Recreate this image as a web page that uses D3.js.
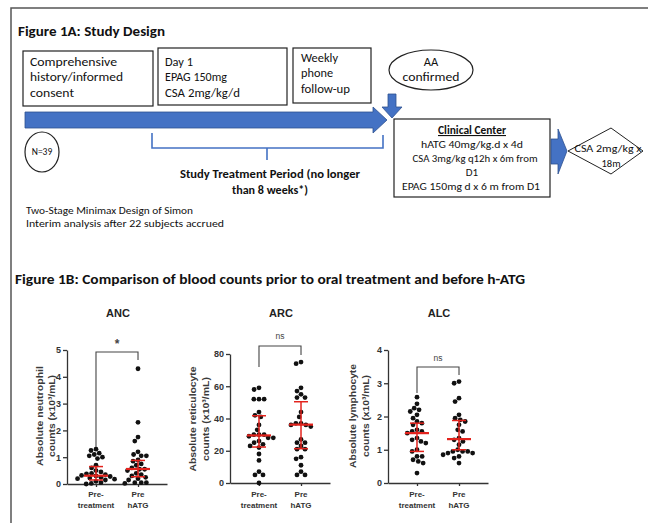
<!DOCTYPE html>
<html><head><meta charset="utf-8">
<script src="https://cdn.jsdelivr.net/npm/d3@7"></script>
<style>
html,body{margin:0;padding:0;background:#fff;}
svg{display:block;}
</style></head>
<body>
<svg id="c" width="648" height="523"></svg>
<script>
// ---------------- DATA ----------------
const groups = ["Pre-treatment", "Pre hATG"];
const groupLabels = [["Pre-", "treatment"], ["Pre", "hATG"]];

const ancPre   = [1.3, 1.25, 1.15, 1.1, 1.05, 1.0, 0.95, 0.7, 0.6, 0.5, 0.45, 0.4, 0.38, 0.35, 0.32, 0.3, 0.28, 0.25, 0.22, 0.2, 0.18, 0.15, 0.1, 0.05, 0.02, 0.0];
const ancHatg  = [4.3, 2.3, 1.75, 1.6, 1.2, 1.1, 1.05, 1.05, 0.9, 0.85, 0.75, 0.7, 0.6, 0.55, 0.55, 0.5, 0.4, 0.35, 0.3, 0.25, 0.2, 0.15, 0.05, 0.05, 0.05, 0.02];
const arcPre   = [59, 58, 52, 52, 52, 44, 42, 41, 36, 33, 30, 30, 30, 29, 28, 28, 26, 25, 24, 23, 22, 18, 14, 7, 5, 5, 0];
const arcHatg  = [75, 74, 59, 57, 55, 53, 53, 44, 41, 37, 37, 36, 36, 35, 27, 25, 25, 23, 21, 21, 16, 15, 11, 7, 5, 5];
const alcPre   = [2.58, 2.38, 2.25, 2.2, 2.15, 2.05, 1.95, 1.85, 1.8, 1.75, 1.6, 1.55, 1.55, 1.5, 1.35, 1.3, 1.25, 1.2, 1.0, 0.95, 0.8, 0.8, 0.7, 0.65, 0.6, 0.3];
const alcHatg  = [3.05, 3.0, 2.55, 2.45, 2.05, 1.95, 1.9, 1.85, 1.75, 1.6, 1.55, 1.35, 1.3, 1.25, 1.15, 1.0, 0.95, 0.95, 0.95, 0.9, 0.9, 0.85, 0.8, 0.75, 0.6];

// [median, q1, q3] per group
const ancStats = [[0.31, 0.15, 0.65], [0.56, 0.27, 0.88]];
const arcStats = [[29.5, 22.3, 41.7], [36.2, 21.3, 50.4]];
const alcStats = [[1.5, 0.95, 1.8], [1.32, 1.0, 1.88]];

const ancTicks = [0, 1, 2, 3, 4, 5];
const arcTicks = [0, 20, 40, 60, 80];
const alcTicks = [0, 1, 2, 3, 4];

// ---------------- DRAW ----------------
const svg = d3.select("#c");
const CAL = "Carlito, Lato, 'Open Sans', sans-serif";
const ARI = "'Liberation Sans Narrow', 'Liberation Sans', Arial, Helvetica, sans-serif";
const BLUE = "#4472c4", BLUE_D = "#2f528f";

function txt(g, x, y, s, o = {}) {
  const t = g.append("text").attr("x", x).attr("y", y).text(s)
    .attr("font-family", o.family || CAL)
    .attr("font-size", o.size || 12)
    .attr("font-weight", o.weight || "normal")
    .attr("text-anchor", o.anchor || "start")
    .attr("fill", o.fill || "#111");
  if (o.width) t.attr("textLength", o.width).attr("lengthAdjust", "spacingAndGlyphs");
  if (o.deco) t.attr("text-decoration", o.deco);
  return t;
}

// frame
svg.append("path").attr("d", "M11,523 V8 H648").attr("fill", "none").attr("stroke", "#555").attr("stroke-width", 1.5);

// ---- Figure 1A ----
txt(svg, 18, 36, "Figure 1A: Study Design", {size: 14, weight: "bold", width: 147});

const boxes = svg.append("g").attr("fill", "none").attr("stroke", "#222").attr("stroke-width", 1.2);
boxes.append("rect").attr("x", 23).attr("y", 51).attr("width", 130).attr("height", 55);
boxes.append("rect").attr("x", 158).attr("y", 48).attr("width", 129).attr("height", 57);
boxes.append("rect").attr("x", 293).attr("y", 48).attr("width", 78).attr("height", 55);
boxes.append("rect").attr("x", 394).attr("y", 119).attr("width", 156).attr("height", 78);
boxes.append("ellipse").attr("cx", 431).attr("cy", 70).attr("rx", 42).attr("ry", 20);
boxes.append("ellipse").attr("cx", 42).attr("cy", 152).attr("rx", 17).attr("ry", 20);
boxes.append("path").attr("d", "M568,151 L611,128 L643,151 L611,174 Z").attr("stroke-width", 1);

const BS = 12.5;
txt(svg, 30, 66, "Comprehensive", {size: BS, width: 87});
txt(svg, 30, 81, "history/informed", {size: BS, width: 93});
txt(svg, 30, 97, "consent", {size: BS, width: 44});
txt(svg, 165, 66, "Day 1", {size: BS, width: 28});
txt(svg, 165, 81, "EPAG 150mg", {size: BS, width: 62});
txt(svg, 165, 97, "CSA 2mg/kg/d", {size: BS, width: 75});
txt(svg, 301, 62, "Weekly", {size: BS, width: 37});
txt(svg, 301, 77, "phone", {size: BS, width: 32});
txt(svg, 301, 93, "follow-up", {size: BS, width: 49});

txt(svg, 431, 66, "AA", {size: BS, anchor: "middle"});
txt(svg, 431, 81, "confirmed", {size: BS, anchor: "middle", width: 57});
txt(svg, 42, 155, "N=39", {size: 9.5, anchor: "middle"});

// arrows
svg.append("path").attr("d", "M25,112 H373 V107 L387,120 L373,133 V128 H25 Z")
  .attr("fill", BLUE).attr("stroke", BLUE_D).attr("stroke-width", 0.8);
svg.append("path").attr("d", "M388,94 H396 V107 H402 L392,118 L382,107 H388 Z")
  .attr("fill", BLUE).attr("stroke", BLUE_D).attr("stroke-width", 0.8);
svg.append("path").attr("d", "M551,139 H558 V129 L567,151 L558,174 V164 H551 Z")
  .attr("fill", BLUE).attr("stroke", BLUE_D).attr("stroke-width", 0.8);

// bracket
svg.append("path").attr("d", "M152,133 V148 H383 V135 M267,148 V160")
  .attr("fill", "none").attr("stroke", BLUE).attr("stroke-width", 1.6);
txt(svg, 270, 178, "Study Treatment Period (no longer", {size: 12.5, weight: "bold", anchor: "middle", width: 180});
txt(svg, 270, 194, "than 8 weeks*)", {size: 12.5, weight: "bold", anchor: "middle", width: 76});

// clinical center
txt(svg, 472, 134, "Clinical Center", {size: 11, weight: "bold", anchor: "middle", width: 68, deco: "underline"});
txt(svg, 472, 148, "hATG 40mg/kg.d x 4d", {size: 11, anchor: "middle", width: 102});
txt(svg, 475, 162, "CSA 3mg/kg q12h x 6m from", {size: 11, anchor: "middle", width: 125});
txt(svg, 472, 176, "D1", {size: 11, anchor: "middle"});
txt(svg, 471, 190, "EPAG 150mg d x 6 m from D1", {size: 11, anchor: "middle", width: 138});

txt(svg, 608, 152, "CSA 2mg/kg x", {size: 10.5, anchor: "middle", width: 67});
txt(svg, 611, 167, "18m", {size: 10.5, anchor: "middle"});

txt(svg, 26, 214, "Two-Stage Minimax Design of Simon", {size: 9.5, width: 167});
txt(svg, 26, 227, "Interim analysis after 22 subjects accrued", {size: 9.5, width: 198});

// ---- Figure 1B ----
txt(svg, 15, 284, "Figure 1B: Comparison of blood counts prior to oral treatment and before h-ATG", {size: 13.5, weight: "bold", width: 510});

const panels = [
  {title: "ANC", data: [ancPre, ancHatg], stats: ancStats, ticks: ancTicks, domain: [0, 5], ax: 67, y0: 484, y1: 350,
   lab: ["Absolute neutrophil", "counts (x10³/mL)"], labX: [-27, -15], labY: 416, labW: [100, 82],
   sig: "*", brY: 352, legs: [447, 360], sigY: 348, sigSize: 12, sigW: "bold"},
  {title: "ARC", data: [arcPre, arcHatg], stats: arcStats, ticks: arcTicks, domain: [0, 80], ax: 230, y0: 483, y1: 354,
   lab: ["Absolute reticulocyte", "counts (x10³/mL)"], labX: [-37, -24], labY: 419, labW: [105, 84],
   sig: "ns", brY: 346, legs: [367, 355], sigY: 339, sigSize: 8.5, sigW: "normal"},
  {title: "ALC", data: [alcPre, alcHatg], stats: alcStats, ticks: alcTicks, domain: [0, 4], ax: 388, y0: 483, y1: 350,
   lab: ["Absolute lymphocyte", "counts (x10³/mL)"], labX: [-35, -22], labY: 416, labW: [104, 82],
   sig: "ns", brY: 367, legs: [393, 375], sigY: 361, sigSize: 8.5, sigW: "normal"}
];

const dotR = 2.4;
function swarm(values, y) {
  const pts = values.map(v => ({v, y: y(v)})).sort((a, b) => a.y - b.y);
  const placed = [];
  const d = 2 * dotR + 0.35;
  pts.forEach(p => {
    const blocks = [];
    placed.forEach(q => {
      const dy = Math.abs(q.y - p.y);
      if (dy < d) { const w = Math.sqrt(d * d - dy * dy); blocks.push([q.dx - w, q.dx + w]); }
    });
    const cands = [0];
    blocks.forEach(b => { cands.push(b[0], b[1]); });
    cands.sort((a, b) => Math.abs(a) - Math.abs(b));
    let best = 0;
    for (const c of cands) {
      if (blocks.every(b => c <= b[0] + 1e-6 || c >= b[1] - 1e-6)) { best = c; break; }
    }
    p.dx = best;
    placed.push(p);
  });
  return placed;
}

const GRAY = "#333";
panels.forEach(P => {
  const g = svg.append("g");
  const y = d3.scaleLinear().domain(P.domain).range([P.y0, P.y1]);
  const x = d3.scalePoint().domain(groups).range([P.ax, P.ax + 100]).padding(0.69);

  const ya = g.append("g").attr("transform", `translate(${P.ax},0)`)
    .call(d3.axisLeft(y).tickValues(P.ticks).tickFormat(d3.format("d")).tickSize(4).tickSizeOuter(0).tickPadding(2));
  const xa = g.append("g").attr("transform", `translate(0,${P.y0})`)
    .call(d3.axisBottom(x).tickSize(3).tickSizeOuter(0).tickFormat(""));
  [ya, xa].forEach(a => {
    a.selectAll("path,line").attr("stroke", GRAY).attr("stroke-width", 1.3);
    a.selectAll("text").attr("font-family", ARI).attr("font-size", 9).attr("font-weight", "bold").attr("fill", GRAY);
  });

  groups.forEach((gr, i) => {
    groupLabels[i].forEach((s, j) => {
      txt(g, x(gr), 497 + j * 11, s, {family: ARI, size: 8, weight: "bold", anchor: "middle", fill: GRAY});
    });
  });

  // title
  const cx = (x(groups[0]) + x(groups[1])) / 2;
  txt(g, cx + 1, 317, P.title, {family: ARI, size: 11, weight: "bold", anchor: "middle", fill: "#222"});

  // y label
  P.lab.forEach((s, j) => {
    g.append("text").attr("transform", `translate(${P.ax + P.labX[j]},${P.labY}) rotate(-90)`)
      .attr("text-anchor", "middle").attr("dy", "0.35em")
      .attr("textLength", P.labW[j]).attr("lengthAdjust", "spacingAndGlyphs")
      .attr("font-family", ARI).attr("font-size", 9.5).attr("font-weight", "bold").attr("fill", "#3a3a3a").text(s);
  });

  // dots
  P.data.forEach((vals, i) => {
    const pts = swarm(vals, y);
    g.append("g").selectAll("circle").data(pts).join("circle")
      .attr("cx", d => x(groups[i]) + d.dx).attr("cy", d => d.y).attr("r", dotR).attr("fill", "#111");
  });

  // median / IQR
  P.stats.forEach((s, i) => {
    const xc = x(groups[i]);
    const rg = g.append("g").attr("stroke", "#e3231d").attr("fill", "none");
    rg.append("line").attr("x1", xc - 12).attr("x2", xc + 12).attr("y1", y(s[0])).attr("y2", y(s[0])).attr("stroke-width", 2.2);
    rg.append("line").attr("x1", xc).attr("x2", xc).attr("y1", y(s[1])).attr("y2", y(s[2])).attr("stroke-width", 1.5);
    [s[1], s[2]].forEach(v => rg.append("line").attr("x1", xc - 7).attr("x2", xc + 7).attr("y1", y(v)).attr("y2", y(v)).attr("stroke-width", 1.5));
  });

  // significance bracket
  const xa0 = x(groups[0]), xa1 = x(groups[1]);
  g.append("path").attr("d", `M${xa0},${P.legs[0]} V${P.brY} H${xa1} V${P.legs[1]}`)
    .attr("fill", "none").attr("stroke", "#444").attr("stroke-width", 1.1);
  txt(g, cx, P.sigY, P.sig, {family: ARI, size: P.sigSize, weight: P.sigW, anchor: "middle", fill: "#444"});
});
</script>
</body></html>
